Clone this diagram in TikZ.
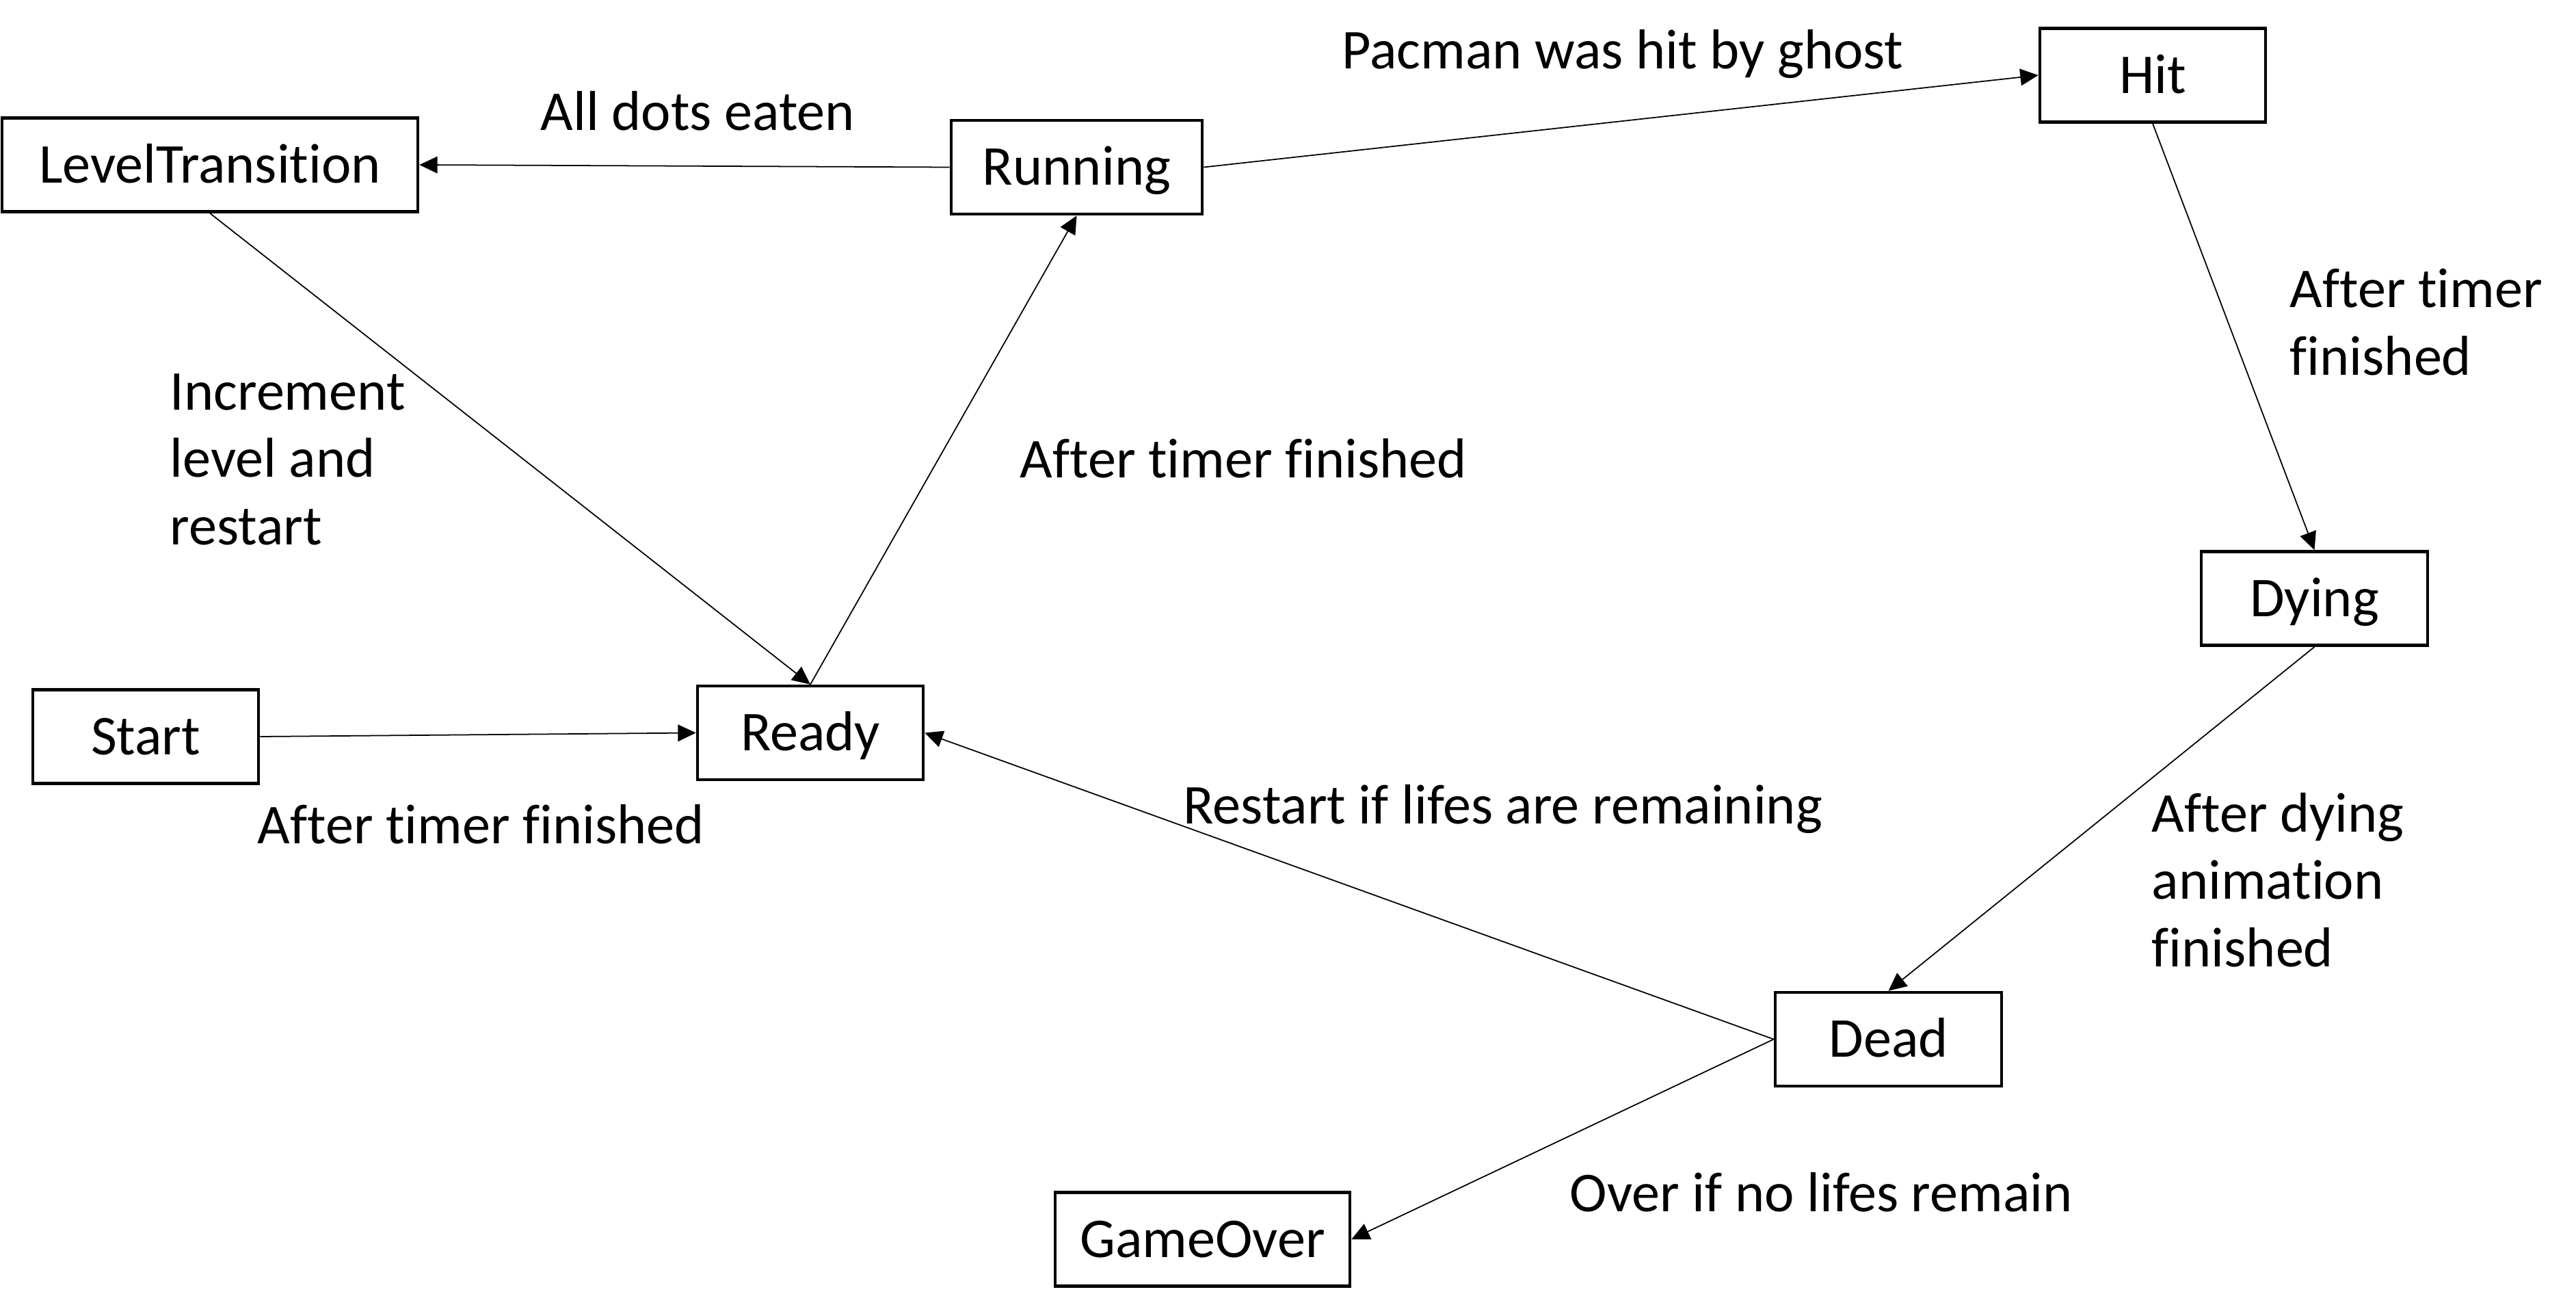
\documentclass[tikz,border=0pt]{standalone}
\usepackage{fontspec}
\setmainfont{Carlito}[Ligatures=NoCommon]
\usetikzlibrary{arrows.meta}

\begin{document}
\begin{tikzpicture}[
  font=\fontsize{23.4pt}{28pt}\selectfont,
  state/.style={draw, line width=1.3pt, minimum height=1.37cm, text height=14.8pt, text depth=0pt, inner sep=0pt},
  trans/.style={line width=0.5pt, -{Triangle[length=7.5pt,width=7pt]}},
  lbl/.style={anchor=base west, inner sep=0pt, align=left}
]
\useasboundingbox (0,0) rectangle (37.67,-19.11);
\node[state, minimum width=6.08cm] (LT) at (3.07,-2.41) {LevelTransition};
\node[state, minimum width=3.67cm] (Run) at (15.745,-2.445) {Running};
\node[state, minimum width=3.30cm] (Hit) at (31.48,-1.10) {Hit};
\node[state, minimum width=3.31cm] (Dying) at (33.845,-8.75) {Dying};
\node[state, minimum width=3.31cm] (Dead) at (27.615,-15.195) {Dead};
\node[state, minimum width=3.30cm] (Ready) at (11.85,-10.715) {Ready};
\node[state, minimum width=3.30cm] (Start) at (2.13,-10.77) {Start};
\node[state, minimum width=4.31cm] (Over) at (17.585,-18.12) {GameOver};
\draw [trans] (Run.west) -- (LT.east);
\draw [trans] (Run.east) -- (Hit.west);
\draw [trans] (Hit.south) -- (Dying.north);
\draw [trans] (Dying.south) -- (Dead.north);
\draw [trans] (LT.south) -- (Ready.north);
\draw [trans] (Ready.north) -- (Run.south);
\draw [trans] (Start.east) -- (Ready.west);
\draw [trans] (Dead.west) -- (Ready.east);
\draw [trans] (Dead.west) -- (Over.east);
% multi-line labels sit on their last line
\node[lbl] (lDots) at (7.90,-1.91) {All dots eaten};
\node[lbl] (lGhost) at (19.62,-1.01) {Pacman was hit by ghost};
\node[lbl] (lLevel) at (2.48,-7.96) {Increment\\level and\\restart};
\node[lbl] (lTimerA) at (14.91,-6.98) {After timer finished};
\node[lbl] (lTimerB) at (33.48,-5.48) {After timer\\finished};
\node[lbl] (lTimerC) at (3.76,-12.33) {After timer finished};
\node[lbl] (lRestart) at (17.30,-12.04) {Restart if lifes are remaining};
\node[lbl] (lAnim) at (31.46,-14.13) {After dying\\animation\\finished};
\node[lbl] (lOver) at (22.95,-17.71) {Over if no lifes remain};
\end{tikzpicture}
\end{document}
